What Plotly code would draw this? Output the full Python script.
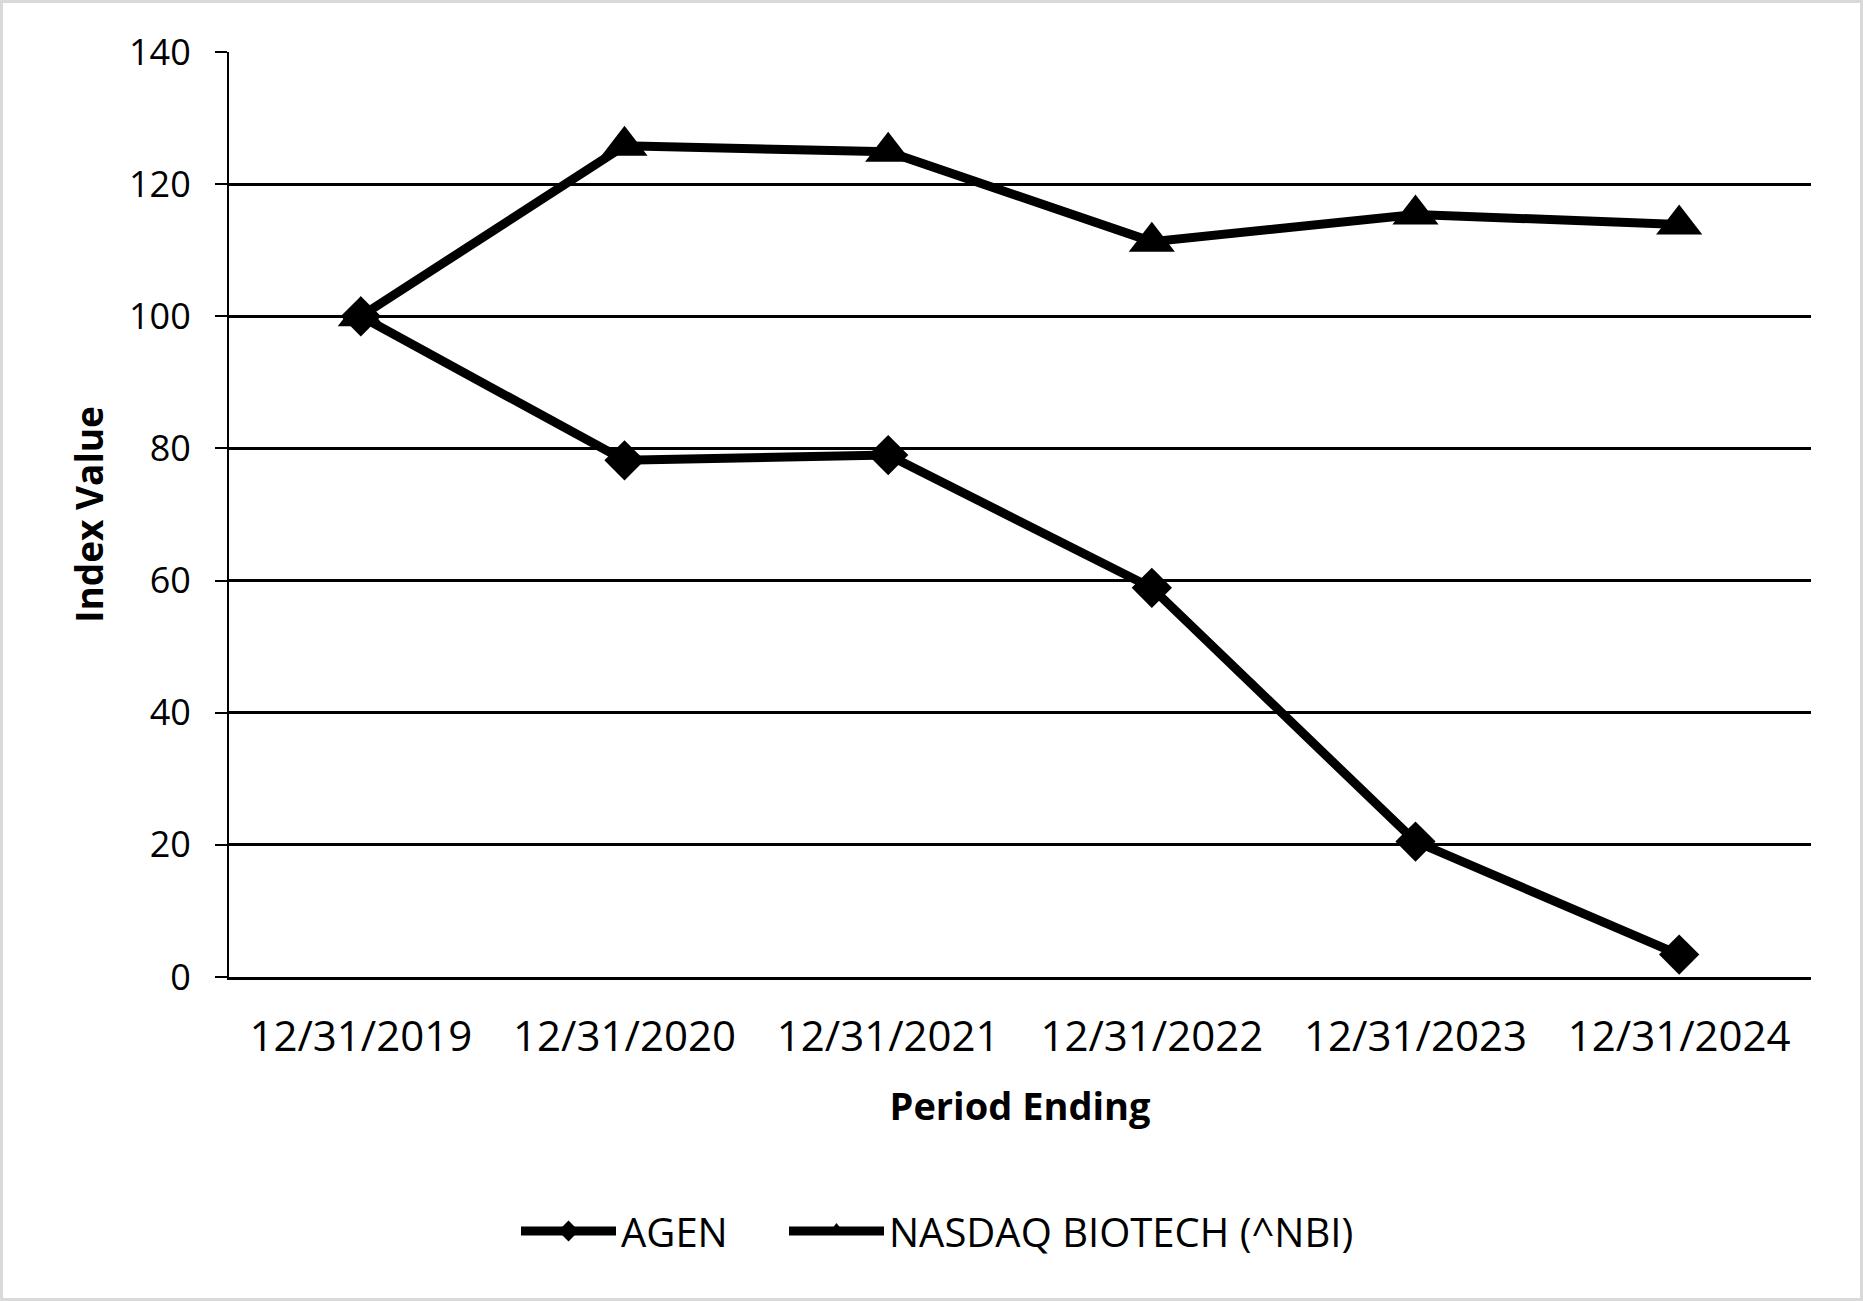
import plotly.graph_objects as go

periods = ["12/31/2019", "12/31/2020", "12/31/2021", "12/31/2022", "12/31/2023", "12/31/2024"]
agen = [100, 78.2, 79.0, 58.9, 20.5, 3.4]
nbi = [100, 125.8, 124.9, 111.3, 115.4, 113.9]
y_ticks = [0, 20, 40, 60, 80, 100, 120, 140]

W, H = 1863, 1301
ML, MR, MT, MB = 229, 52, 52, 324
FONT = "Open Sans"

fig = go.Figure()
fig.add_trace(go.Scatter(
    x=periods, y=agen, mode="lines+markers", name="AGEN", legend="legend",
    line=dict(color="black", width=9),
    marker=dict(symbol="diamond", size=31, color="black")))
fig.add_trace(go.Scatter(
    x=periods, y=nbi, mode="lines+markers", name="NASDAQ BIOTECH (^NBI)", legend="legend2",
    line=dict(color="black", width=9),
    marker=dict(symbol="triangle-up", size=40, color="black")))

# light grey frame round the whole chart area
pw, ph = W - ML - MR, H - MT - MB
fig.add_shape(type="rect", xref="paper", yref="paper",
              x0=-(ML - 1.5) / pw, x1=1 + (MR - 1.5) / pw,
              y0=-(MB - 1.5) / ph, y1=1 + (MT - 1.5) / ph,
              line=dict(color="#d9d9d9", width=3),
              fillcolor="rgba(0,0,0,0)", opacity=1, layer="below")

leg = dict(orientation="h", xanchor="left", y=(977 - 1231) / ph, yanchor="middle",
           font=dict(size=40, family=FONT), itemwidth=95, bgcolor="rgba(0,0,0,0)")

fig.update_layout(
    width=W, height=H, template="simple_white",
    paper_bgcolor="white", plot_bgcolor="white",
    margin=dict(l=ML, r=MR, t=MT, b=MB),
    font=dict(family=FONT, color="black"),
    showlegend=True,
    legend=dict(leg, x=(516 - ML) / pw),
    legend2=dict(leg, x=(784 - ML) / pw),
    xaxis=dict(type="category", range=[-0.5, 5.5],
               showline=True, linecolor="black", linewidth=3,
               ticks="", showgrid=False, mirror=False,
               tickfont=dict(size=42, family=FONT), ticklabelstandoff=21,
               title=dict(text="<b>Period Ending</b>", font=dict(size=38, family=FONT),
                          standoff=31)),
    yaxis=dict(range=[0, 140], tickvals=y_ticks,
               showline=True, linecolor="black", linewidth=2,
               ticks="outside", ticklen=12, tickwidth=2, tickcolor="black",
               showgrid=True, gridcolor="black", gridwidth=2.5, zeroline=False,
               tickfont=dict(size=36, family=FONT), ticklabelstandoff=17,
               title=dict(text="<b>Index Value</b>", font=dict(size=37, family=FONT),
                          standoff=14)),
)

fig.write_html("out.html", config={"displayModeBar": False},
               post_script="document.body.style.margin='0';")
